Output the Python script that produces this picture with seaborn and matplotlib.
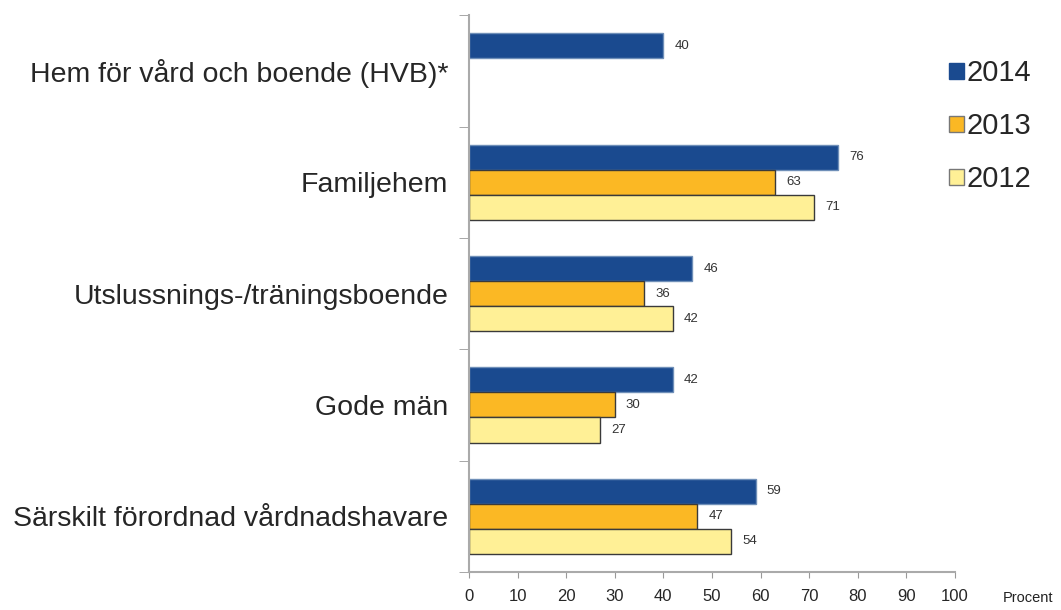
import numpy as np
import pandas as pd
import seaborn as sns
import matplotlib.pyplot as plt
from matplotlib.patches import Patch

categories = ["Hem för vård och boende (HVB)*", "Familjehem", "Utslussnings-/träningsboende",
              "Gode män", "Särskilt förordnad vårdnadshavare"]
years = ["2014", "2013", "2012"]
v2014 = [40, 76, 46, 42, 59]
v2013 = [np.nan, 63, 36, 30, 47]
v2012 = [np.nan, 71, 42, 27, 54]
colors = ["#1a4a8f", "#fbb824", "#fff096"]
edges = ["#6f8fb8", "#3a3a3a", "#3a3a3a"]

df = pd.DataFrame({
    "kategori": categories * 3,
    "år": [y for y in years for _ in categories],
    "procent": v2014 + v2013 + v2012,
})

sns.set_style("white")
plt.rcParams["font.family"] = ["Liberation Sans", "DejaVu Sans"]

fig = plt.figure(figsize=(10.61, 6.10), dpi=100)
ax = fig.add_axes([0.442, 0.0623, 0.458, 0.9127])

sns.barplot(data=df, y="kategori", x="procent", hue="år", hue_order=years,
            order=categories, palette=colors, orient="h", width=0.675,
            saturation=1, legend=False, ax=ax)

# kantfärger och värdeetiketter
for cont, ec in zip(ax.containers, edges):
    for bar in cont:
        bar.set_edgecolor(ec)
        bar.set_linewidth(1.0)
    labels = ["" if np.isnan(b.get_width()) or b.get_width() == 0 else f"{b.get_width():.0f}" for b in cont]
    ax.bar_label(cont, labels=labels, padding=8, fontsize=9.5, color="#333333")

ax.set_xlim(0, 100)
ax.set_ylim(len(categories) - 0.5, -0.5)
ax.set_xticks(range(0, 101, 10))
ax.set_xlabel("")
ax.set_ylabel("")
ax.tick_params(axis="x", labelsize=12, length=4, color="#999999", direction="out", pad=8, bottom=True)
ax.tick_params(axis="y", which="major", length=0, labelsize=20.5, pad=15)
ax.set_yticks(np.arange(-0.5, len(categories), 1.0), minor=True)
ax.tick_params(axis="y", which="minor", length=7, color="#999999", direction="out", left=True)

for s in ["top", "right"]:
    ax.spines[s].set_visible(False)
for s in ["left", "bottom"]:
    ax.spines[s].set_color("#aaaaaa")
    ax.spines[s].set_linewidth(1.5)

fig.text(0.969, 0.008, "Procent", fontsize=10.5, ha="center", va="bottom", color="#222222")

handles = [Patch(facecolor=c, edgecolor=("#1a4a8f" if i == 0 else "#777777")) for i, c in enumerate(colors)]
fig.legend(handles, years, loc="upper left", bbox_to_anchor=(0.870, 0.946), frameon=False,
           fontsize=21, handlelength=0.5, handleheight=0.5, handletextpad=0.1, labelspacing=0.86)

fig.savefig("out.png", dpi=100)
